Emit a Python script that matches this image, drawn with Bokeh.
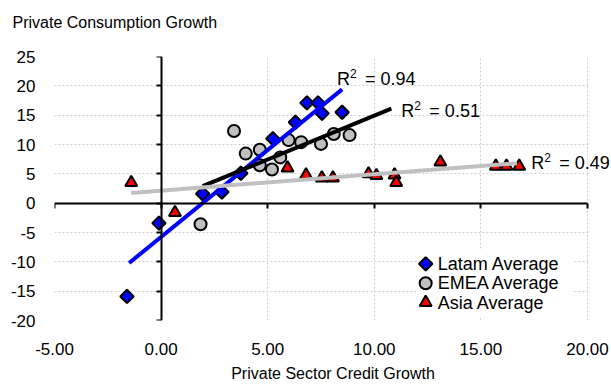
from bokeh.plotting import figure
from bokeh.models import (LinearAxis, Range1d, FixedTicker, NumeralTickFormatter, LabelSet, Title,
                          ColumnDataSource, Grid, CustomJSTickFormatter, BoxAnnotation)
from bokeh.core.properties import value
from bokeh.embed import file_html
from bokeh.resources import INLINE
import math

FONT = "Liberation Sans"

# ---- data ----
latam_x = [-1.6, -0.1, 1.95, 2.85, 3.74, 5.24, 6.3, 6.84, 7.36, 7.55, 8.49]
latam_y = [-15.9, -3.4, 1.6, 1.9, 5.1, 11.0, 13.8, 17.1, 17.1, 15.3, 15.5]
emea_x = [1.85, 3.42, 3.97, 4.63, 4.63, 5.2, 5.59, 5.98, 6.57, 7.5, 8.1, 8.84]
emea_y = [-3.6, 12.3, 8.45, 9.1, 6.45, 5.75, 7.8, 10.75, 10.4, 10.1, 11.8, 11.6]
asia_x = [-1.4, 0.65, 5.93, 6.8, 7.54, 8.06, 9.73, 10.1, 10.95, 11.03, 13.1, 15.7, 16.2, 16.8]
asia_y = [3.5, -1.6, 6.0, 4.8, 4.3, 4.3, 5.0, 4.7, 4.8, 3.5, 7.0, 6.3, 6.3, 6.3]

latam_trend_x = [-1.5, 8.49]
latam_trend_y = [-10.2, 19.4]
emea_trend_x = [1.95, 10.8]
emea_trend_y = [2.9, 16.1]
asia_trend_x = [-1.4, 16.7]
asia_trend_y = [1.75, 6.8]

r2_values = ["= 0.94", "= 0.51", "= 0.49"]
r2_x = [8.25, 11.27, 17.36]
r2_y = [20.1, 14.7, 5.76]

x_ticks = [-5, 0, 5, 10, 15, 20]
y_ticks = [-20, -15, -10, -5, 0, 5, 10, 15, 20, 25]

series_names = ["Latam Average", "EMEA Average", "Asia Average"]

# ---- layout constants (legend placement, in data units) ----
X_MIN, X_MAX, Y_MIN, Y_MAX = -5, 20, -20, 25
X_PAD_RIGHT = 1.126          # room right of the plot area for the last R^2 label
LEG_X = 12.41
LEG_Y0 = -10.34
LEG_DY = -3.3
LEG_BOX = dict(left=11.98, right=19.34, top=-7.97, bottom=-19.3)

# ---- figure ----
p = figure(width=611, height=384, output_backend="svg", toolbar_location=None,
           x_range=Range1d(X_MIN, X_MAX + X_PAD_RIGHT), y_range=Range1d(Y_MIN, Y_MAX),
           x_axis_type=None, y_axis_type=None,
           min_border_left=54, min_border_right=0, min_border_top=56, min_border_bottom=63,
           title="Private Consumption Growth")
p.outline_line_color = None
p.background_fill_color = "white"
p.border_fill_color = "white"
p.title.text_font = FONT
p.title.text_font_size = "16px"
p.title.text_font_style = "normal"
p.title.text_color = "black"
p.title.align = "left"
p.title.offset = -42
p.title.standoff = 0
# empty spacer between the chart title and the plot area
p.add_layout(Title(text=" ", text_font_size="1px", standoff=23), "above")

xaxis = LinearAxis(ticker=FixedTicker(ticks=x_ticks), formatter=NumeralTickFormatter(format="0.00"),
                   axis_line_color=None, major_tick_line_color=None, minor_tick_line_color=None,
                   major_label_standoff=16, major_label_text_font=FONT,
                   major_label_text_font_size="17px", major_label_text_color="black",
                   axis_label="Private Sector Credit Growth", axis_label_text_font=FONT,
                   axis_label_text_font_size="16px", axis_label_text_font_style="normal",
                   axis_label_text_color="black", axis_label_standoff=7)
p.add_layout(xaxis, "below")
yaxis = LinearAxis(ticker=FixedTicker(ticks=y_ticks), formatter=NumeralTickFormatter(format="0"),
                   axis_line_color=None, major_tick_line_color=None, minor_tick_line_color=None,
                   major_label_standoff=13, major_label_text_font=FONT,
                   major_label_text_font_size="17px", major_label_text_color="black")
p.add_layout(yaxis, "left")

for dim, tk in ((0, x_ticks), (1, y_ticks)):
    g = Grid(dimension=dim, ticker=FixedTicker(ticks=tk), grid_line_color="#cfcfcf",
             grid_line_dash="2 2", grid_line_width=1)
    p.add_layout(g)

# hide the grid beyond the right edge of the plot area
p.add_layout(BoxAnnotation(left=X_MAX + 0.05, fill_color="white", fill_alpha=1, line_color=None,
                           level="underlay"))
# white legend background over the grid
p.add_layout(BoxAnnotation(fill_color="white", fill_alpha=1, line_color=None, level="underlay",
                           **LEG_BOX))

blank = CustomJSTickFormatter(code="return ''")
xcross = LinearAxis(fixed_location=0, bounds=(X_MIN, X_MAX), ticker=FixedTicker(ticks=x_ticks),
                    formatter=blank, axis_line_width=2, axis_line_color="black",
                    major_tick_line_width=2, major_tick_out=5, major_tick_in=0,
                    minor_tick_line_color=None, major_label_text_font_size="1px")
p.add_layout(xcross, "below")
ycross = LinearAxis(fixed_location=0, ticker=FixedTicker(ticks=y_ticks), formatter=blank,
                    axis_line_width=2, axis_line_color="black", major_tick_line_width=2,
                    major_tick_out=5, major_tick_in=0, minor_tick_line_color=None,
                    major_label_text_font_size="1px")
p.add_layout(ycross, "left")

# ---- markers ----
p.scatter(latam_x, latam_y, marker="square", angle=math.pi / 4, size=9.5,
          fill_color="#0000FF", line_color="black", line_width=2)
p.scatter(emea_x, emea_y, marker="circle", size=12,
          fill_color="#C0C0C0", line_color="black", line_width=2)
p.scatter(asia_x, asia_y, marker="triangle", size=12,
          fill_color="#FF0000", line_color="black", line_width=2)

# ---- trendlines ----
p.line(latam_trend_x, latam_trend_y, line_color="#0000FF", line_width=4)
p.line(emea_trend_x, emea_trend_y, line_color="black", line_width=4)
p.line(asia_trend_x, asia_trend_y, line_color="#C0C0C0", line_width=4)

# ---- R^2 labels ----
src = ColumnDataSource(dict(x=r2_x, y=r2_y, val=r2_values, r=["R"] * 3, two=["2"] * 3))
p.add_layout(LabelSet(x="x", y="y", text="r", source=src, text_font=value(FONT),
                      text_font_size=value("18px"), text_color="black", text_baseline="alphabetic"))
p.add_layout(LabelSet(x="x", y="y", text="two", source=src, x_offset=13, y_offset=7,
                      text_font=value(FONT), text_font_size=value("12px"), text_color="black",
                      text_baseline="alphabetic"))
p.add_layout(LabelSet(x="x", y="y", text="val", source=src, x_offset=28, text_font=value(FONT),
                      text_font_size=value("18px"), text_color="black", text_baseline="alphabetic"))

# ---- legend (drawn by hand so the keys keep the chart's marker shapes) ----
leg_y = [LEG_Y0 + i * LEG_DY for i in range(3)]
p.scatter([LEG_X], [leg_y[0]], marker="square", angle=math.pi / 4, size=9.5,
          fill_color="#0000FF", line_color="black", line_width=2)
p.scatter([LEG_X], [leg_y[1]], marker="circle", size=12,
          fill_color="#C0C0C0", line_color="black", line_width=2)
p.scatter([LEG_X], [leg_y[2]], marker="triangle", size=12,
          fill_color="#FF0000", line_color="black", line_width=2)
leg_src = ColumnDataSource(dict(x=[LEG_X] * 3, y=leg_y, name=series_names))
p.add_layout(LabelSet(x="x", y="y", text="name", source=leg_src, x_offset=12,
                      text_font=value(FONT), text_font_size=value("18px"), text_color="black",
                      text_baseline="middle"))

open("out.html", "w").write(file_html(p, INLINE))
